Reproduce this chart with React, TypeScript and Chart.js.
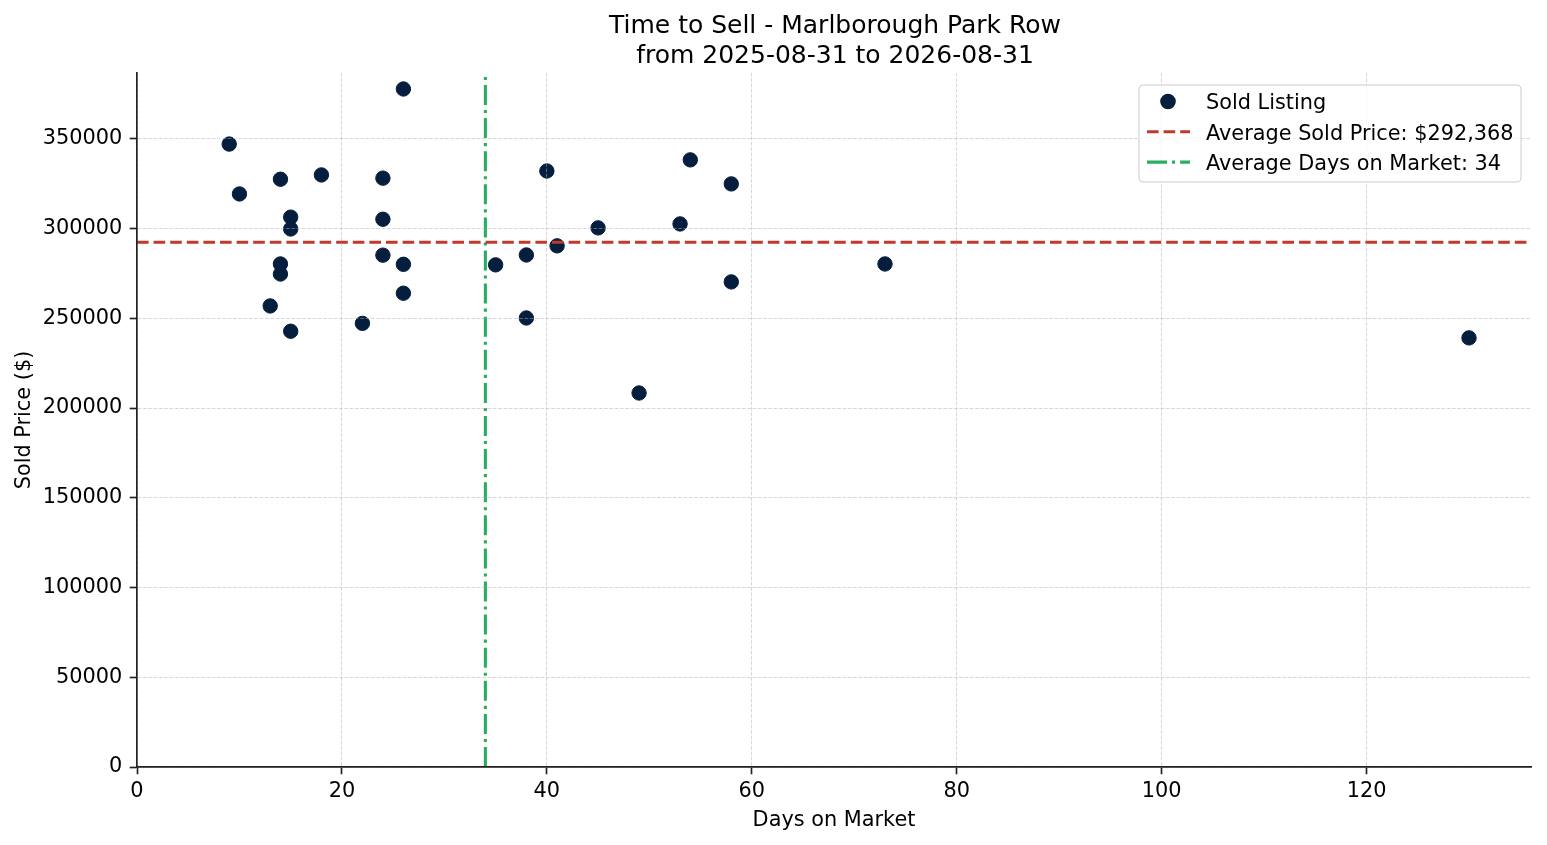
import React, { useEffect, useRef } from 'react';
import Chart from 'chart.js/auto';

// sold listings: days on market vs sold price
const DAYS = [9, 10, 14, 14, 14, 13, 15, 15, 15, 18, 22, 24, 24, 24, 26, 26, 26, 35, 38, 38, 40, 41, 45, 49, 53, 54, 58, 58, 73, 130];
const PRICES = [
  347100, 319300, 327500, 280300, 274700, 256900, 306400, 299800, 242800, 329900,
  247200, 328100, 305200, 285200, 377800, 280100, 264000, 279800, 285300, 250200,
  332100, 290400, 300400, 208400, 302600, 338300, 324900, 270300, 280300, 239100,
];

const AVG_PRICE = 292368;
const AVG_DAYS = 34;

const X_TICKS = [0, 20, 40, 60, 80, 100, 120];
const Y_TICKS = [0, 50000, 100000, 150000, 200000, 250000, 300000, 350000];
const X_MIN = 0;
const X_MAX = 136.05;
const Y_MIN = 0;
const Y_MAX = 386700;

const TITLE_LINES = ['Time to Sell - Marlborough Park Row', 'from 2025-08-31 to 2026-08-31'];

const FONT = "'DejaVu Sans', sans-serif";
const FS = 20.83;
const NAVY = '#061e3e';
const RED = '#c0392b';
const GREEN = '#27ae60';
const GRID = 'rgba(176,176,176,0.5)';
const AXIS = '#222222';

const titlePlugin = {
  id: 'twoLineTitle',
  afterDraw(chart: any) {
    const { ctx, chartArea } = chart;
    const cx = (chartArea.left + chartArea.right) / 2 + 1;
    ctx.save();
    ctx.font = `25px ${FONT}`;
    ctx.fillStyle = '#000';
    ctx.textAlign = 'center';
    ctx.textBaseline = 'alphabetic';
    TITLE_LINES.forEach((line, i) => ctx.fillText(line, cx, 32.5 + i * 30));
    ctx.restore();
  },
};

// legend box sitting inside the plot, top right
const legendPlugin = {
  id: 'insideLegend',
  afterDraw(chart: any) {
    const { ctx, chartArea } = chart;
    const w = 382;
    const h = 97;
    const x0 = chartArea.right - 10 - w;
    const y0 = chartArea.top + 12;
    const r = 4;

    ctx.save();
    ctx.beginPath();
    ctx.moveTo(x0 + r, y0);
    ctx.arcTo(x0 + w, y0, x0 + w, y0 + h, r);
    ctx.arcTo(x0 + w, y0 + h, x0, y0 + h, r);
    ctx.arcTo(x0, y0 + h, x0, y0, r);
    ctx.arcTo(x0, y0, x0 + w, y0, r);
    ctx.closePath();
    ctx.fillStyle = 'rgba(255,255,255,0.8)';
    ctx.fill();
    ctx.strokeStyle = '#cccccc';
    ctx.lineWidth = 1;
    ctx.stroke();

    chart.data.datasets.forEach((ds: any, i: number) => {
      const cy = y0 + 16.5 + i * 30.3;
      if (ds.type === 'line') {
        ctx.beginPath();
        ctx.setLineDash(ds.borderDash || []);
        ctx.strokeStyle = ds.borderColor;
        ctx.lineWidth = ds.borderWidth;
        ctx.moveTo(x0 + 8, cy);
        ctx.lineTo(x0 + 51, cy);
        ctx.stroke();
        ctx.setLineDash([]);
      } else {
        ctx.beginPath();
        ctx.arc(x0 + 29, cy, 7.8, 0, Math.PI * 2);
        ctx.fillStyle = ds.backgroundColor;
        ctx.fill();
      }
      ctx.font = `${FS}px ${FONT}`;
      ctx.fillStyle = '#000';
      ctx.textAlign = 'left';
      ctx.textBaseline = 'alphabetic';
      ctx.fillText(ds.label, x0 + 67, cy + 7.8);
    });
    ctx.restore();
  },
};

const App: React.FC = () => {
  const chartRef = useRef<HTMLCanvasElement>(null);

  useEffect(() => {
    document.body.style.margin = '0';
    if (!chartRef.current) return;

    const tickFont = { family: FONT, size: FS };

    const chart = new Chart(chartRef.current, {
      type: 'scatter',
      data: {
        datasets: [
          {
            label: 'Sold Listing',
            data: DAYS.map((d, i) => ({ x: d, y: PRICES[i] })),
            backgroundColor: NAVY,
            borderColor: NAVY,
            borderWidth: 1,
            pointRadius: 7.2,
            order: 3,
          },
          {
            type: 'line',
            label: `Average Sold Price: $${AVG_PRICE.toLocaleString('en-US')}`,
            data: [
              { x: X_MIN, y: AVG_PRICE },
              { x: X_MAX, y: AVG_PRICE },
            ],
            borderColor: RED,
            borderWidth: 3.1,
            borderDash: [11.6, 5],
            pointRadius: 0,
            fill: false,
            order: 1,
          },
          {
            type: 'line',
            label: `Average Days on Market: ${AVG_DAYS}`,
            data: [
              { x: AVG_DAYS, y: Y_MIN },
              { x: AVG_DAYS, y: Y_MAX },
            ],
            borderColor: GREEN,
            borderWidth: 3.1,
            borderDash: [20, 5, 3.1, 5],
            pointRadius: 0,
            fill: false,
            order: 2,
          },
        ] as any,
      },
      options: {
        animation: false,
        responsive: true,
        maintainAspectRatio: false,
        events: [],
        layout: { padding: { top: 73, right: 16, bottom: 0, left: 0 } },
        plugins: {
          legend: { display: false },
          tooltip: { enabled: false },
          title: { display: false },
        },
        scales: {
          x: {
            type: 'linear',
            min: X_MIN,
            max: X_MAX,
            afterBuildTicks: (s: any) => {
              s.ticks = X_TICKS.map((v) => ({ value: v }));
            },
            afterFit: (s: any) => {
              s.height = 78;
            },
            ticks: { font: tickFont, color: '#000', padding: 5, maxRotation: 0, autoSkip: false },
            grid: { color: GRID, lineWidth: 1, tickColor: AXIS, tickLength: 7.3, tickWidth: 1.67, z: 1 },
            border: { color: AXIS, width: 1.67, dash: [3.7, 1.6], z: 2 },
            title: {
              display: true,
              text: 'Days on Market',
              font: { family: FONT, size: FS },
              color: '#000',
              padding: { top: 0, bottom: 12 },
            },
          },
          y: {
            type: 'linear',
            min: Y_MIN,
            max: Y_MAX,
            afterBuildTicks: (s: any) => {
              s.ticks = Y_TICKS.map((v) => ({ value: v }));
            },
            afterFit: (s: any) => {
              s.width = 137;
            },
            ticks: { font: tickFont, color: '#000', padding: 7.5, callback: (v: any) => String(v) },
            grid: { color: GRID, lineWidth: 1, tickColor: AXIS, tickLength: 7.3, tickWidth: 1.67, z: 1 },
            border: { color: AXIS, width: 1.67, dash: [3.7, 1.6], z: 2 },
            title: {
              display: true,
              text: 'Sold Price ($)',
              font: { family: FONT, size: FS },
              color: '#000',
              padding: { top: 12, bottom: 0 },
            },
          },
        },
      },
      plugins: [titlePlugin, legendPlugin],
    });

    return () => chart.destroy();
  }, []);

  return (
    <div style={{ width: 1547, height: 845, position: 'relative', background: '#fff' }}>
      <canvas ref={chartRef}></canvas>
    </div>
  );
};

export default App;
